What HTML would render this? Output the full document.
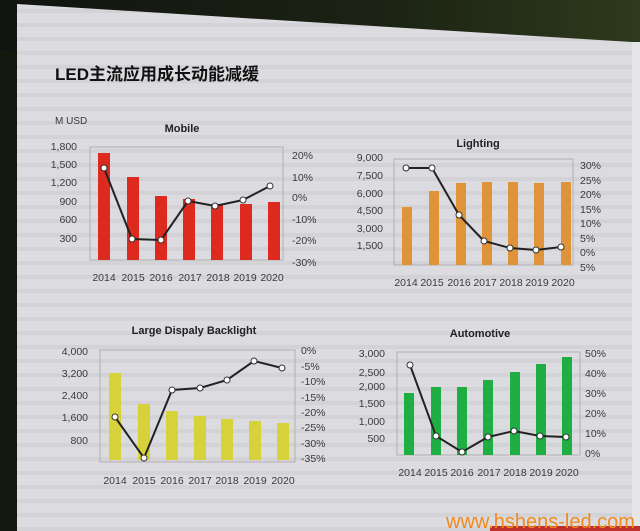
<!DOCTYPE html>
<html><head><meta charset="utf-8"><style>
html,body{margin:0;padding:0;background:#161a12;}
svg{display:block}
text{font-family:"Liberation Sans","Noto Sans CJK SC",sans-serif;fill:#3a3a3a}
.l{font-size:10.5px;text-anchor:end}
.r{font-size:10.5px;text-anchor:start}
.y{font-size:10.5px;text-anchor:middle}
.t{font-size:11px;font-weight:bold;text-anchor:middle;fill:#222}
.ln{fill:none;stroke:#222;stroke-width:2}
.pt{fill:#fff;stroke:#333;stroke-width:1}
.box{fill:none;stroke:#b0b0b4;stroke-width:1}
</style></head><body>
<svg width="640" height="531" viewBox="0 0 640 531">
<defs>
<pattern id="st" width="10" height="14" patternUnits="userSpaceOnUse">
<rect width="10" height="14" fill="#dcdce0"/><rect y="9" width="10" height="4" fill="#d2d2d7"/>
</pattern>
<linearGradient id="tg" x1="0" x2="1" y1="0" y2="0"><stop offset="0" stop-color="#111410"/><stop offset="0.6" stop-color="#1c2314"/><stop offset="1" stop-color="#2e3a1c"/></linearGradient>
</defs>
<rect width="640" height="531" fill="#15180f"/>
<rect x="0" y="0" width="640" height="50" fill="url(#tg)"/>
<polygon points="17,4 632,42 632,531 17,531" fill="url(#st)"/>
<polygon points="632,42 640,42 640,531 632,531" fill="#e6e6e8"/>
<text x="55" y="80" style="font-size:17px;font-weight:bold;fill:#111">LED主流应用成长动能减缓</text>

<!-- Mobile -->
<text x="55" y="124" style="font-size:10px">M USD</text>
<text class="t" x="182" y="132">Mobile</text>
<rect class="box" x="90" y="147" width="193" height="113"/>
<g class="l"><text x="77" y="150">1,800</text><text x="77" y="168">1,500</text><text x="77" y="186">1,200</text><text x="77" y="205">900</text><text x="77" y="223">600</text><text x="77" y="242">300</text></g>
<g class="r"><text x="292" y="159">20%</text><text x="292" y="181">10%</text><text x="292" y="201">0%</text><text x="292" y="223">-10%</text><text x="292" y="244">-20%</text><text x="292" y="266">-30%</text></g>
<g fill="#dc2a1e">
<rect x="98" y="153" width="12" height="107"/><rect x="127" y="177" width="12" height="83"/><rect x="155" y="196" width="12" height="64"/><rect x="183" y="199" width="12" height="61"/><rect x="211" y="204" width="12" height="56"/><rect x="240" y="204" width="12" height="56"/><rect x="268" y="202" width="12" height="58"/></g>
<polyline class="ln" points="104,168 132,239 161,240 188,201 215,206 243,200 270,186"/>
<g class="pt"><circle cx="104" cy="168" r="3"/><circle cx="132" cy="239" r="3"/><circle cx="161" cy="240" r="3"/><circle cx="188" cy="201" r="3"/><circle cx="215" cy="206" r="3"/><circle cx="243" cy="200" r="3"/><circle cx="270" cy="186" r="3"/></g>
<g class="y"><text x="104" y="281">2014</text><text x="133" y="281">2015</text><text x="161" y="281">2016</text><text x="190" y="281">2017</text><text x="218" y="281">2018</text><text x="245" y="281">2019</text><text x="272" y="281">2020</text></g>

<!-- Lighting -->
<text class="t" x="478" y="147">Lighting</text>
<rect class="box" x="394" y="159" width="179" height="106"/>
<g class="l"><text x="383" y="161">9,000</text><text x="383" y="179">7,500</text><text x="383" y="197">6,000</text><text x="383" y="214">4,500</text><text x="383" y="232">3,000</text><text x="383" y="249">1,500</text></g>
<g class="r"><text x="580" y="169">30%</text><text x="580" y="184">25%</text><text x="580" y="198">20%</text><text x="580" y="213">15%</text><text x="580" y="227">10%</text><text x="580" y="242">5%</text><text x="580" y="256">0%</text><text x="580" y="271">5%</text></g>
<g fill="#e0943a">
<rect x="402" y="207" width="10" height="58"/><rect x="429" y="191" width="10" height="74"/><rect x="456" y="183" width="10" height="82"/><rect x="482" y="182" width="10" height="83"/><rect x="508" y="182" width="10" height="83"/><rect x="534" y="183" width="10" height="82"/><rect x="561" y="182" width="10" height="83"/></g>
<polyline class="ln" points="406,168 432,168 459,215 484,241 510,248 536,250 561,247"/>
<g class="pt"><circle cx="406" cy="168" r="3"/><circle cx="432" cy="168" r="3"/><circle cx="459" cy="215" r="3"/><circle cx="484" cy="241" r="3"/><circle cx="510" cy="248" r="3"/><circle cx="536" cy="250" r="3"/><circle cx="561" cy="247" r="3"/></g>
<g class="y"><text x="406" y="286">2014</text><text x="432" y="286">2015</text><text x="459" y="286">2016</text><text x="485" y="286">2017</text><text x="511" y="286">2018</text><text x="537" y="286">2019</text><text x="563" y="286">2020</text></g>

<!-- Backlight -->
<text class="t" x="194" y="334">Large Dispaly Backlight</text>
<rect class="box" x="100" y="350" width="195" height="112"/>
<g class="l"><text x="88" y="355">4,000</text><text x="88" y="377">3,200</text><text x="88" y="399">2,400</text><text x="88" y="421">1,600</text><text x="88" y="444">800</text></g>
<g class="r"><text x="301" y="354">0%</text><text x="301" y="370">-5%</text><text x="301" y="385">-10%</text><text x="301" y="401">-15%</text><text x="301" y="416">-20%</text><text x="301" y="431">-25%</text><text x="301" y="447">-30%</text><text x="301" y="462">-35%</text></g>
<g fill="#d8d23a">
<rect x="109" y="373" width="12" height="87"/><rect x="138" y="404" width="12" height="56"/><rect x="166" y="411" width="12" height="49"/><rect x="194" y="416" width="12" height="44"/><rect x="221" y="419" width="12" height="41"/><rect x="249" y="421" width="12" height="39"/><rect x="277" y="423" width="12" height="37"/></g>
<polyline class="ln" points="115,417 144,458 172,390 200,388 227,380 254,361 282,368"/>
<g class="pt"><circle cx="115" cy="417" r="3"/><circle cx="144" cy="458" r="3"/><circle cx="172" cy="390" r="3"/><circle cx="200" cy="388" r="3"/><circle cx="227" cy="380" r="3"/><circle cx="254" cy="361" r="3"/><circle cx="282" cy="368" r="3"/></g>
<g class="y"><text x="115" y="484">2014</text><text x="144" y="484">2015</text><text x="172" y="484">2016</text><text x="200" y="484">2017</text><text x="227" y="484">2018</text><text x="255" y="484">2019</text><text x="283" y="484">2020</text></g>

<!-- Automotive -->
<text class="t" x="480" y="337">Automotive</text>
<rect class="box" x="397" y="352" width="183" height="103"/>
<g class="l"><text x="385" y="357">3,000</text><text x="385" y="376">2,500</text><text x="385" y="390">2,000</text><text x="385" y="407">1,500</text><text x="385" y="425">1,000</text><text x="385" y="442">500</text></g>
<g class="r"><text x="585" y="357">50%</text><text x="585" y="377">40%</text><text x="585" y="397">30%</text><text x="585" y="417">20%</text><text x="585" y="437">10%</text><text x="585" y="457">0%</text></g>
<g fill="#1fae44">
<rect x="404" y="393" width="10" height="62"/><rect x="431" y="387" width="10" height="68"/><rect x="457" y="387" width="10" height="68"/><rect x="483" y="380" width="10" height="75"/><rect x="510" y="372" width="10" height="83"/><rect x="536" y="364" width="10" height="91"/><rect x="562" y="357" width="10" height="98"/></g>
<polyline class="ln" points="410,365 436,436 462,452 488,437 514,431 540,436 566,437"/>
<g class="pt"><circle cx="410" cy="365" r="3"/><circle cx="436" cy="436" r="3"/><circle cx="462" cy="452" r="3"/><circle cx="488" cy="437" r="3"/><circle cx="514" cy="431" r="3"/><circle cx="540" cy="436" r="3"/><circle cx="566" cy="437" r="3"/></g>
<g class="y"><text x="410" y="476">2014</text><text x="436" y="476">2015</text><text x="462" y="476">2016</text><text x="489" y="476">2017</text><text x="515" y="476">2018</text><text x="541" y="476">2019</text><text x="567" y="476">2020</text></g>

<rect x="490" y="526" width="150" height="5" fill="#c0302a"/>
<text x="446" y="528" style="font-size:20px;fill:#f08a1c">www.hshens-led.com</text>
</svg>
</body></html>
